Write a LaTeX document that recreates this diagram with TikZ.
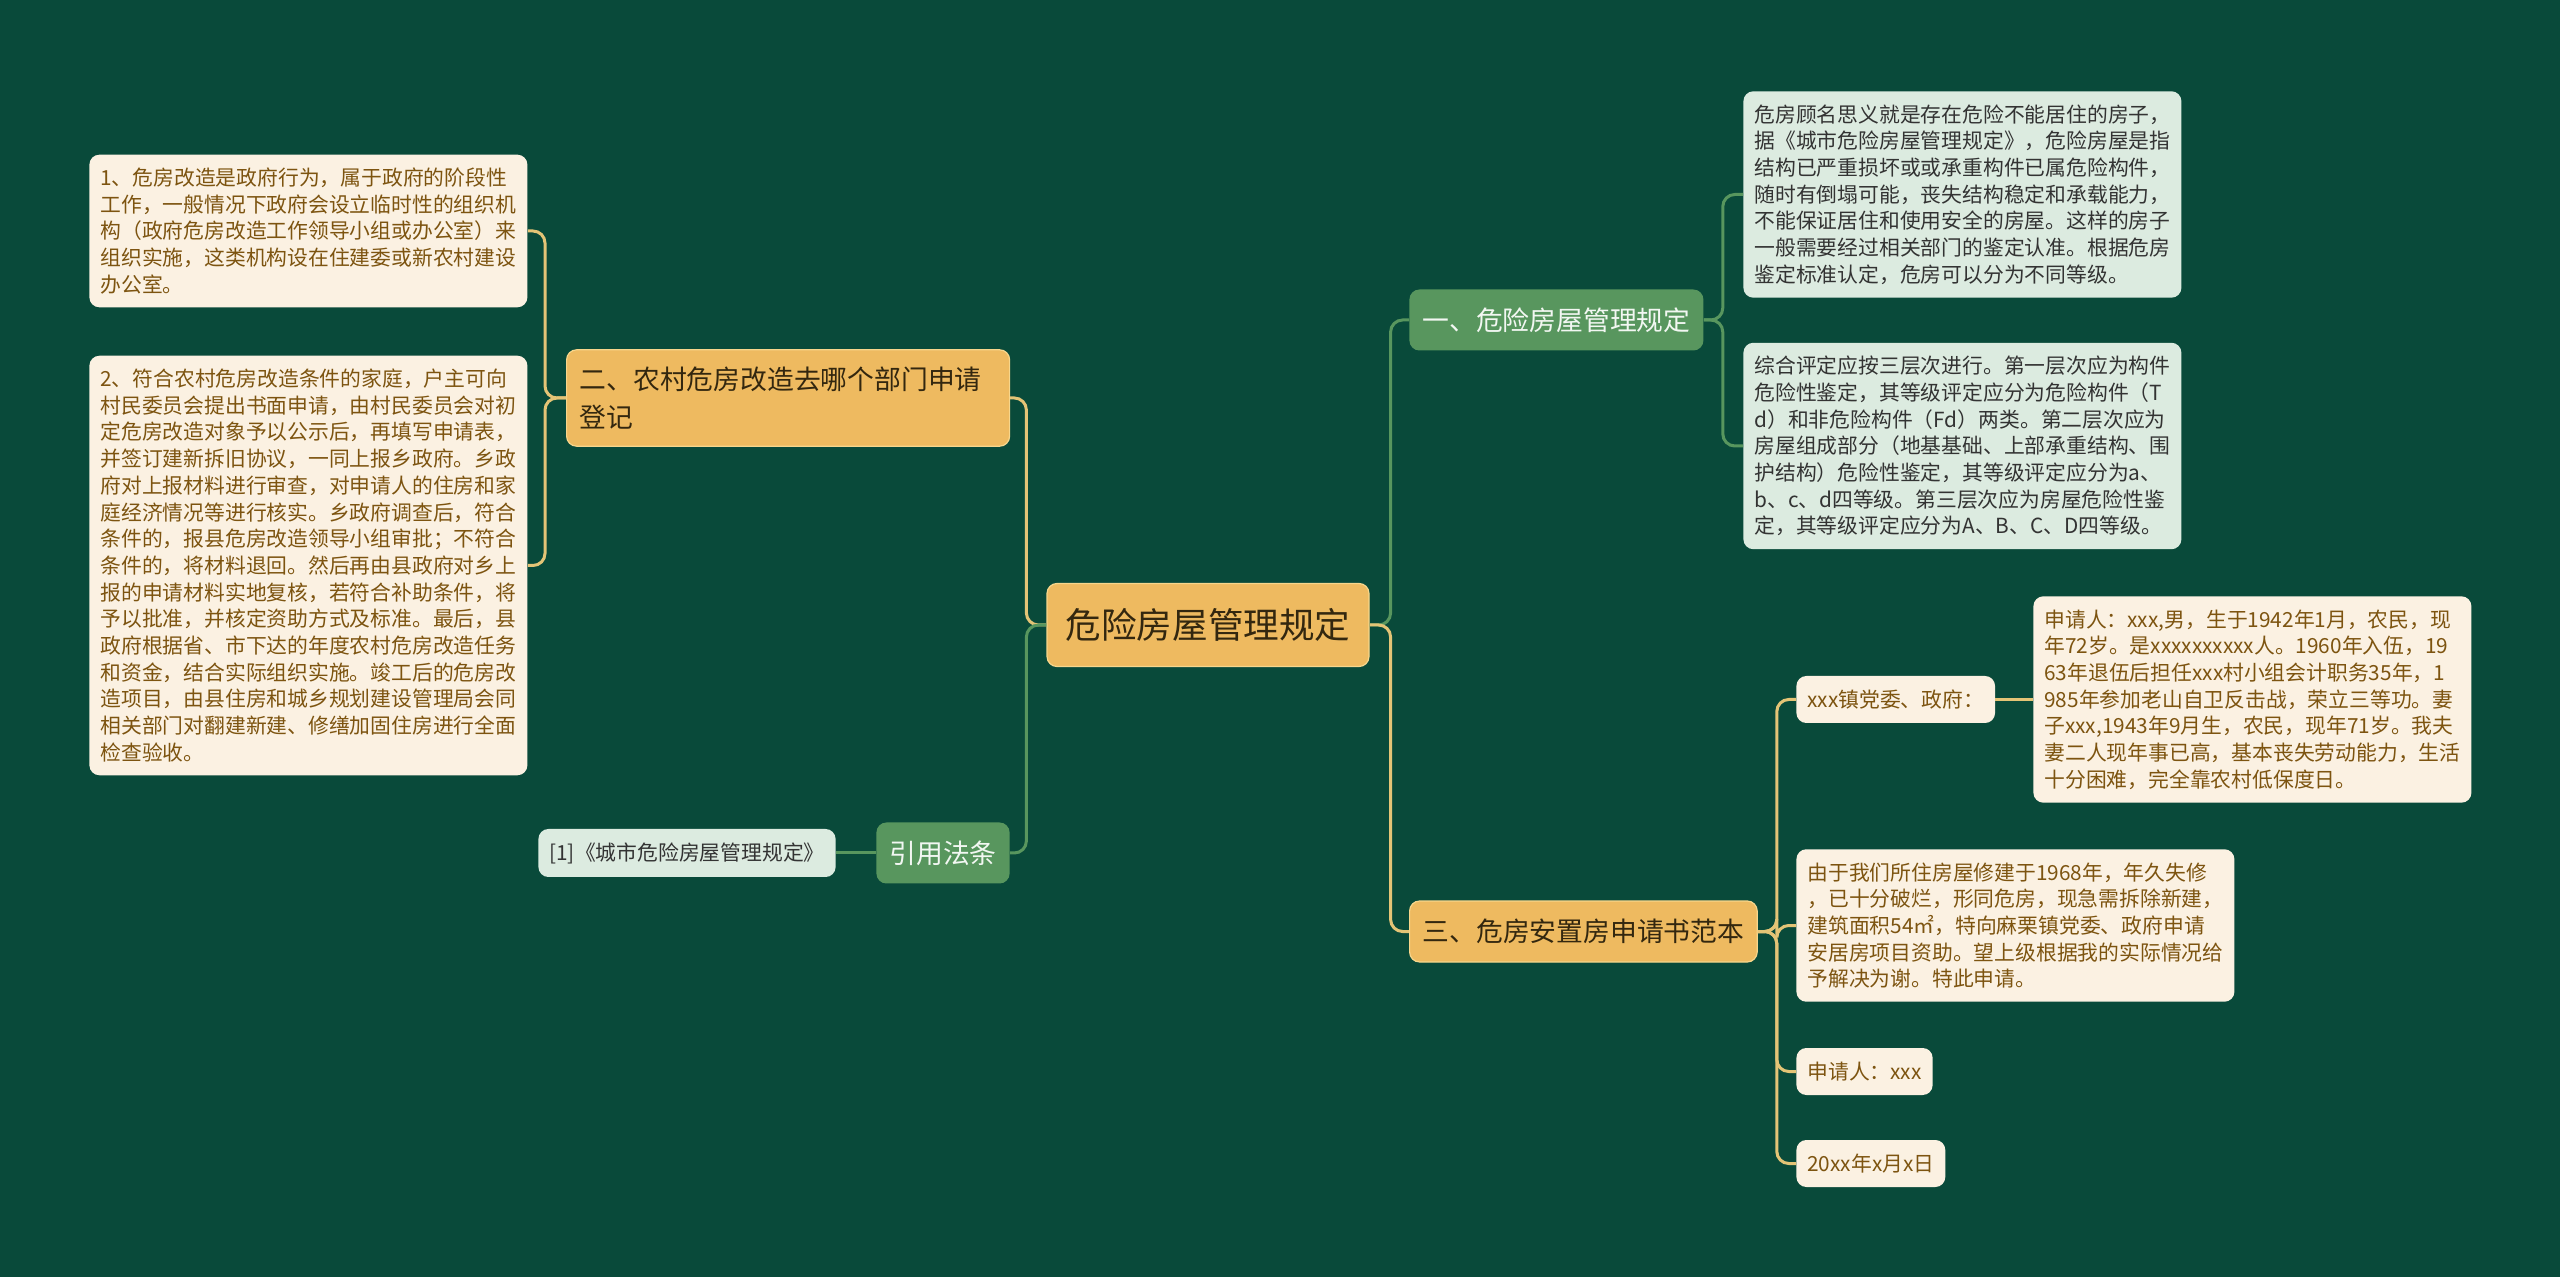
\documentclass[tikz,border=0pt]{standalone}
\usepackage{fontspec}
\setmainfont{Noto Sans CJK SC}
\usetikzlibrary{positioning}
\definecolor{forest}{RGB}{9,74,58}
\definecolor{honey}{RGB}{238,186,96}
\definecolor{honeyline}{RGB}{247,214,140}
\definecolor{sage}{RGB}{88,150,94}
\definecolor{mint}{RGB}{220,235,224}
\definecolor{cream}{RGB}{251,241,226}
\definecolor{umber}{RGB}{125,84,16}
\definecolor{cocoa}{RGB}{51,39,15}
\definecolor{gold}{RGB}{228,196,118}
\definecolor{graphite}{RGB}{51,51,51}
\tikzset{
  root/.style={fill=honey,draw=honeyline,line width=0.6pt,rounded corners=5pt,text=cocoa,
    font=\fontsize{17.8}{22}\selectfont,minimum width=161pt,minimum height=41.5pt,inner sep=0pt},
  branch/.style={rounded corners=5pt,font=\fontsize{13.4}{19}\selectfont,inner xsep=6.5pt,
    inner ysep=8.5pt,minimum height=30.5pt,align=left},
  warm/.style={branch,fill=honey,draw=honeyline,line width=0.6pt,text=cocoa},
  cool/.style={branch,fill=sage,text=white!92!sage},
  leaf/.style={fill=cream,text=umber,rounded corners=5pt,font=\fontsize{10.4}{13.35}\selectfont,
    inner xsep=5.5pt,inner ysep=6.6pt,minimum height=23.5pt,align=left},
  pale/.style={leaf,fill=mint,text=graphite},
  wide/.style={text width=208pt},
  link/.style={draw=#1,line width=1.5pt,rounded corners=6pt},
  link/.default=gold,
}

\begin{document}
\begin{tikzpicture}[x=0.5pt,y=-0.5pt]
  \fill[forest] (0,0) rectangle (2560,1277);
  % centre and branches
  \node[root] (root) at (1208,625) {危险房屋管理规定};
  \node[cool,anchor=west] (rule) at (1409,320) {一、危险房屋管理规定};
  \node[warm,anchor=west] (form) at (1409,931.5) {三、危房安置房申请书范本};
  \node[warm,anchor=west,text width=208.5pt] (dept) at (566,398) {二、农村危房改造去哪个部门申请\\登记};
  \node[cool,anchor=west] (law) at (876,853) {引用法条};
  \node[pale,anchor=east,minimum height=24pt] (cite) at (836,853) {[1]《城市危险房屋管理规定》};
  % left leaves
  \node[leaf,wide,anchor=west] (gov) at (89,231) {1、危房改造是政府行为，属于政府的阶段性\\工作，一般情况下政府会设立临时性的组织机\\构（政府危房改造工作领导小组或办公室）来\\组织实施，这类机构设在住建委或新农村建设\\办公室。};
  \node[leaf,wide,anchor=west] (apply) at (89,565.5) {2、符合农村危房改造条件的家庭，户主可向\\村民委员会提出书面申请，由村民委员会对初\\定危房改造对象予以公示后，再填写申请表，\\并签订建新拆旧协议，一同上报乡政府。乡政\\府对上报材料进行审查，对申请人的住房和家\\庭经济情况等进行核实。乡政府调查后，符合\\条件的，报县危房改造领导小组审批；不符合\\条件的，将材料退回。然后再由县政府对乡上\\报的申请材料实地复核，若符合补助条件，将\\予以批准，并核定资助方式及标准。最后，县\\政府根据省、市下达的年度农村危房改造任务\\和资金，结合实际组织实施。竣工后的危房改\\造项目，由县住房和城乡规划建设管理局会同\\相关部门对翻建新建、修缮加固住房进行全面\\检查验收。};
  % right leaves
  \node[pale,wide,anchor=west] (meaning) at (1743,194.5) {危房顾名思义就是存在危险不能居住的房子，\\据《城市危险房屋管理规定》，危险房屋是指\\结构已严重损坏或或承重构件已属危险构件，\\随时有倒塌可能，丧失结构稳定和承载能力，\\不能保证居住和使用安全的房屋。这样的房子\\一般需要经过相关部门的鉴定认准。根据危房\\鉴定标准认定，危房可以分为不同等级。};
  \node[pale,wide,anchor=west] (grade) at (1743,446) {综合评定应按三层次进行。第一层次应为构件\\危险性鉴定，其等级评定应分为危险构件（T\\d）和非危险构件（Fd）两类。第二层次应为\\房屋组成部分（地基基础、上部承重结构、围\\护结构）危险性鉴定，其等级评定应分为a、\\b、c、d四等级。第三层次应为房屋危险性鉴\\定，其等级评定应分为A、B、C、D四等级。};
  \node[leaf,anchor=west] (to) at (1796,699.5) {xxx镇党委、政府：};
  \node[leaf,wide,anchor=west] (who) at (2033,699.5) {申请人：xxx,男，生于1942年1月，农民，现\\年72岁。是xxxxxxxxxx人。1960年入伍，19\\63年退伍后担任xxx村小组会计职务35年，1\\985年参加老山自卫反击战，荣立三等功。妻\\子xxx,1943年9月生，农民，现年71岁。我夫\\妻二人现年事已高，基本丧失劳动能力，生活\\十分困难，完全靠农村低保度日。};
  \node[leaf,wide,anchor=west] (why) at (1796,925.5) {由于我们所住房屋修建于1968年，年久失修\\，已十分破烂，形同危房，现急需拆除新建，\\建筑面积54㎡，特向麻栗镇党委、政府申请\\安居房项目资助。望上级根据我的实际情况给\\予解决为谢。特此申请。};
  \node[leaf,anchor=west] (sign) at (1796,1071.5) {申请人：xxx};
  \node[leaf,anchor=west] (date) at (1796,1163.5) {20xx年x月x日};
  % connectors
  \draw[link=sage] (root.east) -- ++(21,0) |- (rule.west);
  \draw[link] (root.east) -- ++(21,0) |- (form.west);
  \draw[link] (root.west) -- ++(-20,0) |- (dept.east);
  \draw[link=sage] (root.west) -- ++(-20,0) |- (law.east);
  \draw[link=sage] (law.west) -- (cite.east);
  \foreach \n in {gov,apply}
    \draw[link] (dept.west) -- ++(-21,0) |- (\n.east);
  \foreach \n in {meaning,grade}
    \draw[link=sage] (rule.east) -- ++(19,0) |- (\n.west);
  \foreach \n in {to,why,sign,date}
    \draw[link] (form.east) -- ++(19,0) |- (\n.west);
  \draw[link] (to.east) -- (who.west);
\end{tikzpicture}
\end{document}
